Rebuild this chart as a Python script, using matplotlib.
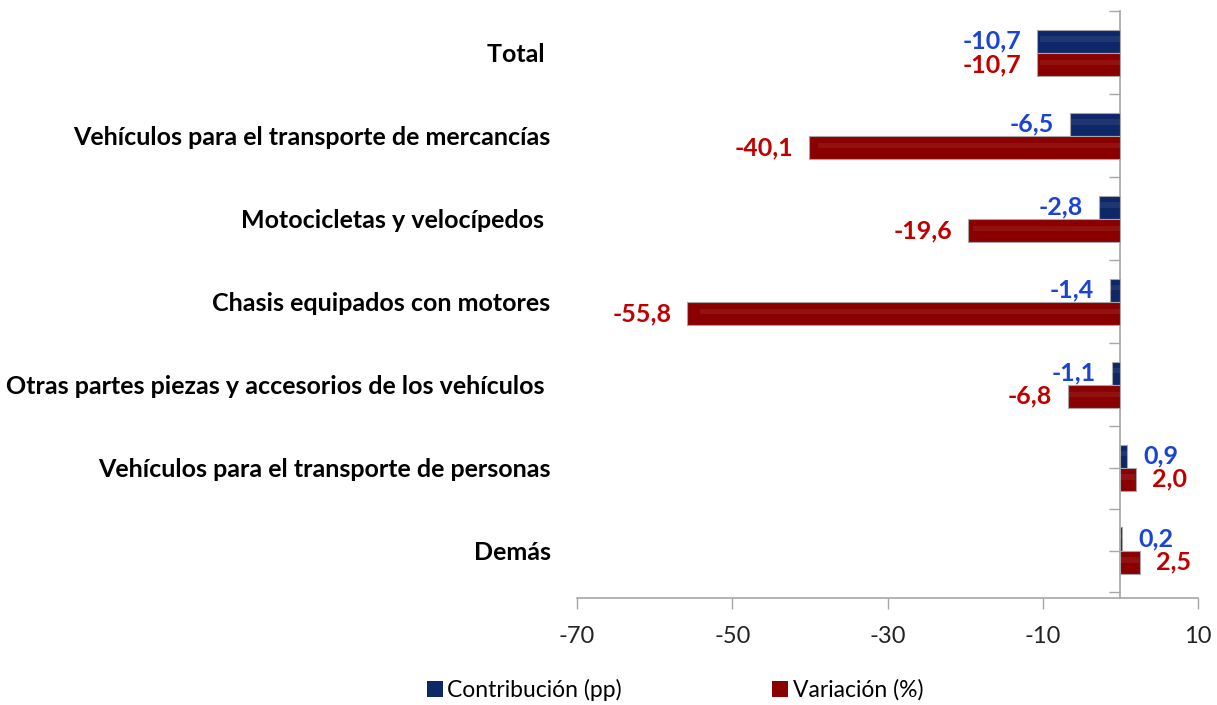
import numpy as np
import matplotlib.pyplot as plt
from matplotlib.transforms import offset_copy

# Datos
categorias = ['Total ', 'Vehículos para el transporte de mercancías',
              'Motocicletas y velocípedos ', 'Chasis equipados con motores',
              'Otras partes piezas y accesorios de los vehículos ',
              'Vehículos para el transporte de personas', 'Demás']
contribucion = [-10.7, -6.5, -2.8, -1.4, -1.1, 0.9, 0.2]
variacion = [-10.7, -40.1, -19.6, -55.8, -6.8, 2.0, 2.5]
series = ['Contribución (pp)', 'Variación (%)']

AZUL = '#0d2768'
ROJO = '#8a0000'
AZUL_TXT = '#1a44d6'
ROJO_TXT = '#c00000'
GRIS = '#a6a6a6'

plt.rcParams['font.family'] = ['Lato', 'DejaVu Sans']


def fmt(v):
    return f'{v:.1f}'.replace('.', ',')


def main():
    fig = plt.figure(figsize=(12.17, 7.05), dpi=100)
    ax = fig.add_axes([577 / 1217, 1 - 598 / 705, 621 / 1217, (598 - 11.5) / 705])

    y = np.arange(len(categorias))
    h = 0.28
    yb = y - h / 2
    yr = y + h / 2

    ax.barh(yb, contribucion, height=h, color=AZUL, edgecolor=GRIS, linewidth=0.8, label=series[0], zorder=3)
    ax.barh(yr, variacion, height=h, color=ROJO, edgecolor=GRIS, linewidth=0.8, label=series[1], zorder=3)
    # brillo del efecto biselado
    ax.barh(yb - h * 0.1, np.array(contribucion) * 0.97, height=h * 0.22, color='white', alpha=0.07, linewidth=0, zorder=4)
    ax.barh(yr - h * 0.1, np.array(variacion) * 0.97, height=h * 0.22, color='white', alpha=0.07, linewidth=0, zorder=4)

    ax.set_xlim(-70, 10)
    ax.set_ylim(6.57, -0.5)
    ax.set_xticks(np.arange(-70, 11, 20))
    ax.set_xticklabels([str(t) for t in range(-70, 11, 20)])
    ax.tick_params(axis='x', length=8, width=1, color=GRIS, labelsize=17, pad=12, labelcolor='#222222')

    for s in ['top', 'right', 'left']:
        ax.spines[s].set_visible(False)
    ax.spines['bottom'].set_color(GRIS)
    ax.spines['bottom'].set_linewidth(1.2)

    ax.set_yticks(y)
    ax.set_yticklabels(categorias, fontsize=18, fontweight='bold')
    ax.tick_params(axis='y', length=0, pad=19)

    # eje vertical en cero con marcas
    eje0 = ax.secondary_yaxis(0, transform=ax.transData)
    eje0.set_yticks(np.arange(-0.5, 6.6, 0.5))
    eje0.set_yticklabels([])
    eje0.tick_params(length=8, width=1, color=GRIS)
    eje0.spines['left'].set_color(GRIS)
    eje0.spines['left'].set_linewidth(1.2)

    # etiquetas de valores
    for vals, ys, col in [(contribucion, yb, AZUL_TXT), (variacion, yr, ROJO_TXT)]:
        for v, yy in zip(vals, ys):
            dx = 16 if v >= 0 else -16
            tr = offset_copy(ax.transData, fig=fig, x=dx * 0.72, y=0, units='points')
            ax.text(v, yy, fmt(v), transform=tr, ha='left' if v >= 0 else 'right',
                    va='center', fontsize=18, fontweight='bold', color=col, zorder=5)

    handles, labels = ax.get_legend_handles_labels()
    leg = fig.legend(handles, labels, loc='center', bbox_to_anchor=(675 / 1217, 1 - 690 / 705),
                     ncol=2, frameon=False, fontsize=16.5, handlelength=0.7, handleheight=0.7,
                     handletextpad=0.2, columnspacing=6.55)
    for hdl in leg.legend_handles:
        hdl.set_edgecolor('none')

    fig.savefig('out.png', dpi=100)


if __name__ == "__main__":
    main()
